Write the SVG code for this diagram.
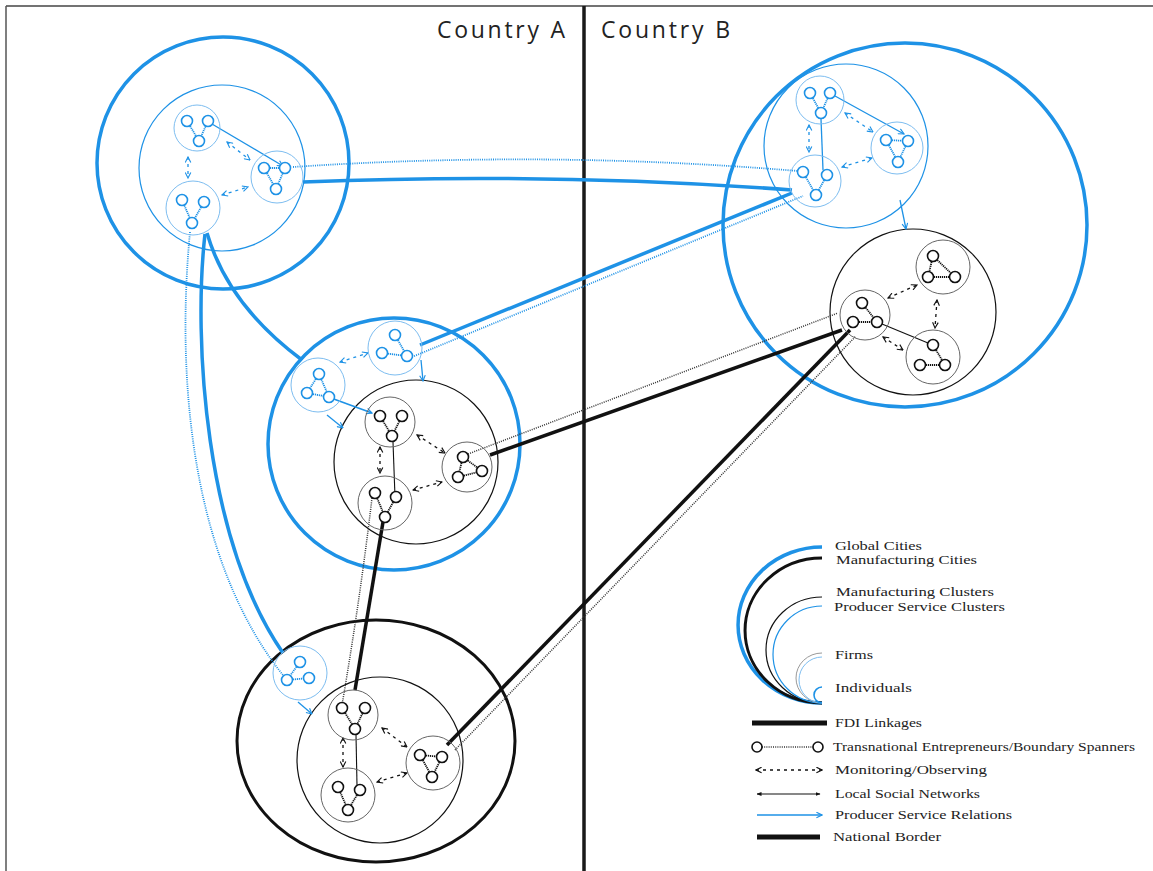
<svg xmlns="http://www.w3.org/2000/svg" width="1153" height="871" viewBox="0 0 1153 871">
<defs>
<style>
.gc{fill:none;stroke:#1e92e6;stroke-width:3.5}
.mc{fill:none;stroke:#111;stroke-width:3}
.psc{fill:none;stroke:#1e92e6;stroke-width:1.2}
.mcl{fill:none;stroke:#111;stroke-width:1.2}
.fb{fill:none;stroke:#7dbdf0;stroke-width:1}
.fk{fill:none;stroke:#666;stroke-width:1}
.ib{fill:#fff;stroke:#1e92e6;stroke-width:1.6}
.ik{fill:#fff;stroke:#111;stroke-width:1.6}
.lb{stroke:#1e92e6;stroke-width:1.8;stroke-dasharray:1.2 0.8;fill:none}
.lk{stroke:#111;stroke-width:1.8;stroke-dasharray:1.2 0.8;fill:none}
.psr{stroke:#1e92e6;stroke-width:1.3;fill:none}
.psrT{stroke:#1e92e6;stroke-width:3.5;fill:none}
.tnb{stroke:#1e92e6;stroke-width:1.8;stroke-dasharray:1 1.2;fill:none}
.tnk{stroke:#333;stroke-width:1.5;stroke-dasharray:1 1.2;fill:none}
.fdi{stroke:#111;stroke-width:3.5;fill:none}
.lsn{stroke:#111;stroke-width:1.1;fill:none}
.monb{stroke:#1e92e6;stroke-width:1.3;stroke-dasharray:3 4;fill:none}
.monk{stroke:#111;stroke-width:1.3;stroke-dasharray:3 4;fill:none}
.ttl{font-family:"Open Sans","DejaVu Sans",sans-serif;font-size:23px;fill:#222}
.lg{font-family:"Liberation Serif","DejaVu Serif",serif;font-size:12px;fill:#222}
</style>
<marker id="ab" viewBox="0 0 10 10" refX="9" refY="5" markerWidth="7" markerHeight="7" markerUnits="userSpaceOnUse" orient="auto-start-reverse"><path d="M1,1 L9,5 L1,9" fill="none" stroke="#1e92e6" stroke-width="1.6"/></marker>
<marker id="ak" viewBox="0 0 10 10" refX="9" refY="5" markerWidth="7" markerHeight="7" markerUnits="userSpaceOnUse" orient="auto-start-reverse"><path d="M1,1 L9,5 L1,9" fill="none" stroke="#111" stroke-width="1.6"/></marker>
<marker id="aks" viewBox="0 0 10 10" refX="9" refY="5" markerWidth="5" markerHeight="5" markerUnits="userSpaceOnUse" orient="auto-start-reverse"><path d="M0,1 L10,5 L0,9 Z" fill="#111"/></marker>
</defs>

<rect x="0" y="0" width="1153" height="871" fill="#fff"/>
<g id="frame">
<line x1="6" y1="6" x2="1153" y2="6" stroke="#444" stroke-width="1.5"/>
<line x1="6" y1="6" x2="6" y2="871" stroke="#555" stroke-width="1.5"/>
<line x1="584" y1="6" x2="584" y2="871" stroke="#1a1a1a" stroke-width="3.5"/>
</g>
<text class="ttl" x="565" y="38" text-anchor="end" textLength="128" lengthAdjust="spacing">Country  A</text>
<text class="ttl" x="601" y="38" textLength="129" lengthAdjust="spacing">Country  B</text>

<!-- cities and clusters -->
<g id="city-tl"><circle class="gc" cx="223" cy="163" r="126"/><circle class="psc" cx="222" cy="168" r="83"/></g>
<g id="city-tr"><circle class="gc" cx="905" cy="225" r="182"/><circle class="psc" cx="846" cy="146" r="82"/><circle class="mcl" cx="913" cy="312" r="83"/></g>
<g id="city-mid"><circle class="gc" cx="394" cy="444" r="126"/><circle class="mcl" cx="416" cy="462" r="82"/></g>
<g id="city-bot"><ellipse class="mc" cx="376" cy="741" rx="139" ry="121"/><circle class="mcl" cx="380" cy="760" r="83"/></g>

<!-- connectors -->
<g id="connectors">
<!-- inter-city -->
<path class="tnb" d="M293 167 Q545 150 798 171"/>
<path class="psrT" d="M303 182 Q550 172 792 190"/>
<path class="psrT" d="M420 345 L792 193"/>
<path class="tnb" d="M412 357 L803 196"/>
<path class="psrT" d="M207 233 Q228 305 302 360"/>
<path class="psrT" d="M205 234 C193 340 205 540 283 653"/>
<path class="tnb" d="M190 232 C175 390 195 570 287 680"/>
<path class="fdi" d="M490 455 Q660 395 842 330"/>
<path class="tnk" d="M468 454 L838 313"/>
<path class="fdi" d="M447 745 L850 330"/>
<path class="tnk" d="M455 750 L856 336"/>
<path class="fdi" d="M383 522 Q370 600 355 690"/>
<path class="tnk" d="M372 498 Q360 600 342 705"/>
<!-- TL -->
<path class="psr" d="M212 124 L283 166" marker-end="url(#ab)"/>
<path class="monb" d="M188 157 L188 178" marker-start="url(#ab)" marker-end="url(#ab)"/>
<path class="monb" d="M227 142 L250 160" marker-start="url(#ab)" marker-end="url(#ab)"/>
<path class="monb" d="M222 195 L248 187" marker-start="url(#ab)" marker-end="url(#ab)"/>
<!-- TR -->
<path class="psr" d="M835 96 L904 134" marker-end="url(#ab)"/>
<path class="psr" d="M821 119 L823 170"/>
<path class="monb" d="M809 125 L809 152" marker-start="url(#ab)" marker-end="url(#ab)"/>
<path class="monb" d="M845 113 L873 132" marker-start="url(#ab)" marker-end="url(#ab)"/>
<path class="monb" d="M842 167 L872 158" marker-start="url(#ab)" marker-end="url(#ab)"/>
<path class="psr" d="M900 200 L906 229" marker-end="url(#ab)"/>
<!-- MR -->
<path class="lsn" d="M882 324 L928 343"/>
<path class="monk" d="M888 298 L917 285" marker-start="url(#ak)" marker-end="url(#ak)"/>
<path class="monk" d="M937 300 L935 328" marker-start="url(#ak)" marker-end="url(#ak)"/>
<path class="monk" d="M883 337 L903 350" marker-start="url(#ak)" marker-end="url(#ak)"/>
<!-- Middle -->
<path class="monb" d="M340 362 L368 353" marker-start="url(#ab)" marker-end="url(#ab)"/>
<path class="psr" d="M331 398 L372 413" marker-end="url(#ab)" style="stroke-width:1.8"/>
<path class="psr" d="M327 415 L343 428" marker-end="url(#ab)"/>
<path class="psr" d="M421 360 L423 381" marker-end="url(#ab)"/>
<path class="lsn" d="M393 442 L395 497"/>
<path class="monk" d="M380 447 L380 473" marker-start="url(#ak)" marker-end="url(#ak)"/>
<path class="monk" d="M417 435 L445 453" marker-start="url(#ak)" marker-end="url(#ak)"/>
<path class="monk" d="M413 490 L442 482" marker-start="url(#ak)" marker-end="url(#ak)"/>
<!-- Bottom -->
<path class="psr" d="M298 702 L312 714" marker-end="url(#ab)"/>
<path class="lsn" d="M356 735 L357 785"/>
<path class="monk" d="M343 738 L343 767" marker-start="url(#ak)" marker-end="url(#ak)"/>
<path class="monk" d="M382 728 L407 747" marker-start="url(#ak)" marker-end="url(#ak)"/>
<path class="monk" d="M377 782 L407 773" marker-start="url(#ak)" marker-end="url(#ak)"/>
</g>

<!-- firms -->
<g id="firm-tl1"><circle class="fb" cx="197" cy="128" r="23"/><path class="lb" d="M187 121 L199 141 M208 121 L199 141"/><circle class="ib" cx="187" cy="121" r="5.5"/><circle class="ib" cx="208" cy="121" r="5.5"/><circle class="ib" cx="199" cy="141" r="5.5"/></g>
<g id="firm-tl2"><circle class="fb" cx="277" cy="177" r="26"/><path class="lb" d="M264 168 L285 168 M264 168 L276 189 M285 168 L276 189"/><circle class="ib" cx="264" cy="168" r="5.5"/><circle class="ib" cx="285" cy="168" r="5.5"/><circle class="ib" cx="276" cy="189" r="5.5"/></g>
<g id="firm-tl3"><circle class="fb" cx="193" cy="208" r="27"/><path class="lb" d="M182 200 L192 223 M204 202 L192 223"/><circle class="ib" cx="182" cy="200" r="5.5"/><circle class="ib" cx="204" cy="202" r="5.5"/><circle class="ib" cx="192" cy="223" r="5.5"/></g>

<g id="firm-tr1"><circle class="fb" cx="820" cy="100" r="24"/><path class="lb" d="M810 93 L821 113 M830 93 L821 113"/><circle class="ib" cx="810" cy="93" r="5.5"/><circle class="ib" cx="830" cy="93" r="5.5"/><circle class="ib" cx="821" cy="113" r="5.5"/></g>
<g id="firm-tr2"><circle class="fb" cx="897" cy="148" r="26"/><path class="lb" d="M886 140 L908 141 M886 140 L898 162 M908 141 L898 162"/><circle class="ib" cx="886" cy="140" r="5.5"/><circle class="ib" cx="908" cy="141" r="5.5"/><circle class="ib" cx="898" cy="162" r="5.5"/></g>
<g id="firm-tr3"><circle class="fb" cx="815" cy="181" r="26"/><path class="lb" d="M803 172 L816 195 M827 175 L816 195"/><circle class="ib" cx="803" cy="172" r="5.5"/><circle class="ib" cx="827" cy="175" r="5.5"/><circle class="ib" cx="816" cy="195" r="5.5"/></g>

<g id="firm-mr1"><circle class="fk" cx="943" cy="267" r="27"/><path class="lk" d="M933 256 L928 277 M933 256 L955 277 M928 277 L955 277"/><circle class="ik" cx="933" cy="256" r="5.5"/><circle class="ik" cx="928" cy="277" r="5.5"/><circle class="ik" cx="955" cy="277" r="5.5"/></g>
<g id="firm-mr2"><circle class="fk" cx="865" cy="315" r="25"/><path class="lk" d="M862 303 L877 322 M853 322 L877 322"/><circle class="ik" cx="862" cy="303" r="5.5"/><circle class="ik" cx="853" cy="322" r="5.5"/><circle class="ik" cx="877" cy="322" r="5.5"/></g>
<g id="firm-mr3"><circle class="fk" cx="933" cy="357" r="27"/><path class="lk" d="M933 345 L945 365 M920 365 L945 365"/><circle class="ik" cx="933" cy="345" r="5.5"/><circle class="ik" cx="920" cy="365" r="5.5"/><circle class="ik" cx="945" cy="365" r="5.5"/></g>

<g id="firm-m1"><circle class="fb" cx="395" cy="348" r="27"/><path class="lb" d="M395 335 L407 356 M382 353 L407 356"/><circle class="ib" cx="395" cy="335" r="5.5"/><circle class="ib" cx="382" cy="353" r="5.5"/><circle class="ib" cx="407" cy="356" r="5.5"/></g>
<g id="firm-m2"><circle class="fb" cx="318" cy="385" r="27"/><path class="lb" d="M319 374 L307 393 M319 374 L329 397 M307 393 L329 397"/><circle class="ib" cx="319" cy="374" r="5.5"/><circle class="ib" cx="307" cy="393" r="5.5"/><circle class="ib" cx="329" cy="397" r="5.5"/></g>
<g id="firm-mb1"><circle class="fk" cx="390" cy="422" r="25"/><path class="lk" d="M380 416 L392 436 M402 416 L392 436"/><circle class="ik" cx="380" cy="416" r="5.5"/><circle class="ik" cx="402" cy="416" r="5.5"/><circle class="ik" cx="392" cy="436" r="5.5"/></g>
<g id="firm-mb2"><circle class="fk" cx="467" cy="467" r="25"/><path class="lk" d="M463 457 L458 477 M463 457 L482 471 M458 477 L482 471"/><circle class="ik" cx="463" cy="457" r="5.5"/><circle class="ik" cx="458" cy="477" r="5.5"/><circle class="ik" cx="482" cy="471" r="5.5"/></g>
<g id="firm-mb3"><circle class="fk" cx="385" cy="503" r="27"/><path class="lk" d="M375 493 L385 517 M396 497 L385 517"/><circle class="ik" cx="375" cy="493" r="5.5"/><circle class="ik" cx="396" cy="497" r="5.5"/><circle class="ik" cx="385" cy="517" r="5.5"/></g>

<g id="firm-bb"><circle class="fb" cx="300" cy="673" r="27"/><path class="lb" d="M300 662 L287 680 M287 680 L309 678"/><circle class="ib" cx="300" cy="662" r="5.5"/><circle class="ib" cx="287" cy="680" r="5.5"/><circle class="ib" cx="309" cy="678" r="5.5"/></g>
<g id="firm-bf1"><circle class="fk" cx="353" cy="715" r="25"/><path class="lk" d="M342 708 L355 729 M365 708 L355 729"/><circle class="ik" cx="342" cy="708" r="5.5"/><circle class="ik" cx="365" cy="708" r="5.5"/><circle class="ik" cx="355" cy="729" r="5.5"/></g>
<g id="firm-bf2"><circle class="fk" cx="433" cy="763" r="27"/><path class="lk" d="M420 755 L442 757 M420 755 L432 777 M442 757 L432 777"/><circle class="ik" cx="420" cy="755" r="5.5"/><circle class="ik" cx="442" cy="757" r="5.5"/><circle class="ik" cx="432" cy="777" r="5.5"/></g>
<g id="firm-bf3"><circle class="fk" cx="348" cy="795" r="27"/><path class="lk" d="M338 787 L348 810 M360 790 L348 810"/><circle class="ik" cx="338" cy="787" r="5.5"/><circle class="ik" cx="360" cy="790" r="5.5"/><circle class="ik" cx="348" cy="810" r="5.5"/></g>

<!-- legend -->
<g id="legend">
<path d="M822 547 A84 78 0 0 0 822 703" fill="none" stroke="#1e92e6" stroke-width="3.5"/>
<path d="M822 558 A77 72.5 0 0 0 822 703" fill="none" stroke="#111" stroke-width="3"/>
<path d="M822 597 A56 53 0 0 0 822 703" fill="none" stroke="#111" stroke-width="1.2"/>
<path d="M822 606 A49 48.5 0 0 0 822 703" fill="none" stroke="#1e92e6" stroke-width="1.2"/>
<path d="M822 653 A26 25 0 0 0 822 703" fill="none" stroke="#999" stroke-width="1"/>
<path d="M822 657 A23 23 0 0 0 822 703" fill="none" stroke="#7dbdf0" stroke-width="1"/>
<path d="M822 687 A8 8 0 0 0 822 703" fill="none" stroke="#1e92e6" stroke-width="1.6"/>
<text class="lg" x="835" y="550" textLength="87" lengthAdjust="spacingAndGlyphs">Global Cities</text>
<text class="lg" x="836" y="564" textLength="141" lengthAdjust="spacingAndGlyphs">Manufacturing Cities</text>
<text class="lg" x="836" y="596" textLength="158" lengthAdjust="spacingAndGlyphs">Manufacturing Clusters</text>
<text class="lg" x="834" y="611" textLength="171" lengthAdjust="spacingAndGlyphs">Producer Service Clusters</text>
<text class="lg" x="835" y="659" textLength="38" lengthAdjust="spacingAndGlyphs">Firms</text>
<text class="lg" x="835" y="692" textLength="77" lengthAdjust="spacingAndGlyphs">Individuals</text>
<line x1="752" y1="723" x2="827" y2="723" stroke="#111" stroke-width="5"/>
<text class="lg" x="835" y="727" textLength="87" lengthAdjust="spacingAndGlyphs">FDI Linkages</text>
<line x1="762" y1="747" x2="813" y2="747" class="tnk"/>
<circle cx="757" cy="747" r="5" class="ik"/><circle cx="818" cy="747" r="5" class="ik"/>
<text class="lg" x="833" y="751" textLength="302" lengthAdjust="spacingAndGlyphs">Transnational Entrepreneurs/Boundary Spanners</text>
<line x1="756" y1="770" x2="822" y2="770" class="monk" marker-start="url(#ak)" marker-end="url(#ak)"/>
<text class="lg" x="835" y="774" textLength="152" lengthAdjust="spacingAndGlyphs">Monitoring/Observing</text>
<line x1="757" y1="794" x2="820" y2="794" class="lsn" marker-start="url(#aks)" marker-end="url(#aks)"/>
<text class="lg" x="835" y="798" textLength="145" lengthAdjust="spacingAndGlyphs">Local Social Networks</text>
<line x1="757" y1="815" x2="822" y2="815" class="psr" marker-end="url(#ab)"/>
<text class="lg" x="835" y="819" textLength="177" lengthAdjust="spacingAndGlyphs">Producer Service Relations</text>
<line x1="757" y1="837" x2="820" y2="837" stroke="#111" stroke-width="5"/>
<text class="lg" x="833" y="841" textLength="108" lengthAdjust="spacingAndGlyphs">National Border</text>
</g>
</svg>
